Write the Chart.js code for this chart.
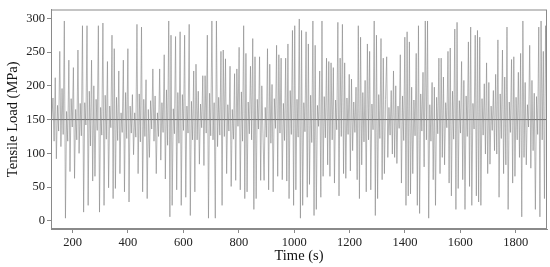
<!DOCTYPE html>
<html lang="en">

<head>
    <meta charset="UTF-8">
    <title>Tensile Load</title>
    <script src="https://cdn.jsdelivr.net/npm/chart.js"></script>
    <style>
        html, body { margin: 0; padding: 0; background: #fff; }
        .box { width: 550px; height: 267px; }
    </style>
</head>

<body>
    <div class="box">
        <canvas id="loadChart"></canvas>
    </div>
</body>

</html>

<script>
    // load history (peaks / valleys, left to right)
    var tensileLoad = [
        150, 182, 118, 212, 92, 171, 133, 251, 110, 196, 128, 296, 4, 162, 118, 238, 73, 181, 139, 227, 63, 165, 120,
        253, 100, 174, 126, 289, 13, 175, 142, 289, 23, 192, 111, 238, 59, 200, 66, 180, 134, 289, 13, 168, 127, 293,
        23, 186, 121, 236, 49, 170, 138, 275, 33, 255, 48, 183, 119, 222, 70, 160, 131, 238, 43, 190, 122,
        255, 28, 170, 130, 187, 98, 160, 124, 291, 70, 188, 117, 287, 43, 180, 125, 209, 33, 165, 94, 178, 136, 225,
        118, 185, 70, 160, 125, 225, 90, 175, 131, 246, 62, 194, 112, 296, 6, 275, 23, 166, 129, 273, 46, 190, 115,
        280, 23, 187, 134, 275, 35, 170, 130, 291, 8, 177, 120, 222, 43, 232, 120,
        192, 84, 173, 138, 215, 82, 215, 130, 275, 4, 189, 126, 296, 120, 175, 4, 296, 110, 183, 127, 251, 23, 253,
        125, 240, 70, 172, 133, 229, 51, 165, 121, 218, 60, 225, 140, 257, 46, 191, 118, 289, 33, 248, 43, 176, 129,
        229, 120, 270, 17, 243, 33, 180, 136, 243, 60, 200, 130, 60, 168, 124, 255, 46, 232, 115,
        202, 43, 181, 137, 260, 66, 246, 130, 241, 61, 174, 119, 241, 59, 262, 33, 193, 128, 282, 23, 289, 46, 180,
        124, 299, 4, 282, 23, 175, 132, 280, 35, 262, 54, 186, 116, 296, 8, 260, 17, 171, 140, 222, 35, 296, 66, 184,
        123, 241, 83, 236, 66, 234, 120, 227, 56, 179, 135, 294, 37, 241, 125,
        291, 70, 234, 63, 182, 128, 217, 74, 210, 104, 176, 131, 198, 61, 289, 33, 272, 83, 190, 117, 208, 43, 262,
        120, 251, 46, 173, 135, 296, 8, 275, 33, 187, 122, 270, 61, 241, 70, 180, 243, 94, 168, 127, 193, 99, 222,
        94, 200, 85, 170, 137, 246, 56, 185, 119, 272, 23, 280, 37,
        265, 40, 198, 70, 179, 126, 248, 23, 289, 11, 188, 133, 220, 80, 296, 120, 296, 4, 172, 118, 205, 61, 198,
        23, 183, 129, 241, 70, 241, 94, 213, 83, 175, 138, 251, 56, 256, 37, 192, 121, 284, 17, 294, 48, 178, 130,
        236, 61, 208, 17, 185, 125, 265, 51, 287, 23, 174, 136, 275, 37,
        282, 28, 272, 23, 181, 127, 203, 99, 234, 70, 205, 84, 170, 134, 193, 104, 217, 99, 268, 35, 188, 122, 253,
        70, 213, 83, 287, 17, 176, 131, 239, 56, 243, 66, 183, 120, 220, 94, 248, 6, 296, 94, 205, 83, 172, 139, 260,
        78, 208, 104, 189, 17, 184, 128, 287, 6, 296, 120, 251, 33, 289, 150
    ];
    var timeStart = 125;
    var timeEnd = 1912;
    var meanLoad = 150;

    var xTicks = [200, 400, 600, 800, 1000, 1200, 1400, 1600, 1800];
    var yTicks = [0, 50, 100, 150, 200, 250, 300];

    var passo = (timeEnd - timeStart) / (tensileLoad.length - 1);
    var pontos = [];
    for (var i = 0; i < tensileLoad.length; i++) {
        pontos.push({ x: timeStart + i * passo, y: tensileLoad[i] });
    }

    // moldura em volta da area do grafico
    const moldura = {
        id: 'moldura',
        afterDraw(chart) {
            const a = chart.chartArea;
            const ctx = chart.ctx;
            ctx.save();
            ctx.strokeStyle = '#8a8a8a';
            ctx.lineWidth = 1;
            ctx.strokeRect(a.left + 0.5, a.top + 0.5, a.right - a.left - 1, a.bottom - a.top - 1);
            ctx.restore();
        }
    };

    const fonte = { family: '"Liberation Serif", "DejaVu Serif", serif' };

    const config = {
        type: 'line',
        data: {
            datasets: [
                {
                    label: 'Load',
                    data: pontos,
                    borderColor: 'rgba(135,135,135,0.6)',
                    borderWidth: 1,
                    pointRadius: 0,
                    tension: 0
                },
                {
                    label: 'Mean',
                    data: [{ x: timeStart - 10, y: meanLoad }, { x: timeEnd + 10, y: meanLoad }],
                    borderColor: '#5f5f5f',
                    borderWidth: 1,
                    pointRadius: 0
                }
            ]
        },
        options: {
            responsive: true,
            maintainAspectRatio: false,
            animation: false,
            layout: { padding: { top: 5, right: 3, left: 0, bottom: 0 } },
            plugins: {
                legend: { display: false },
                tooltip: { enabled: false }
            },
            scales: {
                x: {
                    type: 'linear',
                    min: 122,
                    max: 1913,
                    afterBuildTicks: (s) => { s.ticks = xTicks.map(v => ({ value: v })); },
                    afterFit: (s) => { s.height = 38; },
                    grid: { drawOnChartArea: false, drawTicks: true, tickLength: 4, color: '#8a8a8a' },
                    border: { display: true, color: '#8a8a8a' },
                    ticks: { color: '#222', padding: 2, maxRotation: 0, font: { ...fonte, size: 12.5 }, callback: (v) => String(v) },
                    title: { display: true, text: 'Time (s)', color: '#111', padding: { top: 0, bottom: 2 }, font: { ...fonte, size: 14.5 } }
                },
                y: {
                    min: -12,
                    max: 313,
                    afterBuildTicks: (s) => { s.ticks = yTicks.map(v => ({ value: v })); },
                    afterFit: (s) => { s.width = 51; },
                    grid: { drawOnChartArea: false, drawTicks: true, tickLength: 4, color: '#8a8a8a' },
                    border: { display: true, color: '#8a8a8a' },
                    ticks: { color: '#222', padding: 2, font: { ...fonte, size: 12.5 }, callback: (v) => String(v) },
                    title: { display: true, text: 'Tensile Load (MPa)', color: '#111', padding: { top: 4, bottom: 0 }, font: { ...fonte, size: 14.5 } }
                }
            }
        },
        plugins: [moldura]
    };

    let myChart = new Chart(document.getElementById('loadChart'), config);
</script>
